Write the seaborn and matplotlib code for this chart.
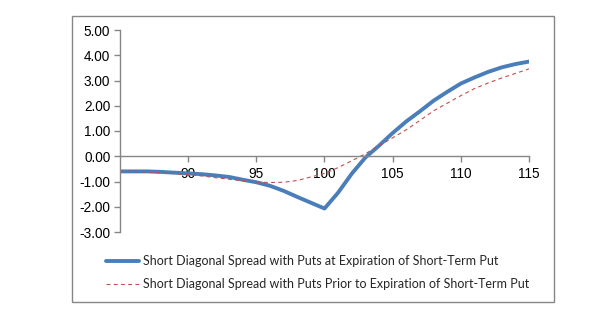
import matplotlib
matplotlib.use("Agg")
import matplotlib.pyplot as plt
from matplotlib.patches import Rectangle
from matplotlib.ticker import FormatStrFormatter
import seaborn as sns
import pandas as pd

# Underlying price at expiration of the short-term put
strikes = list(range(85, 116))

# Profit/loss at expiration of the short-term put
pl_at_expiration = [
    -0.60, -0.60, -0.60, -0.62, -0.65, -0.68, -0.71, -0.76, -0.82, -0.93,
    -1.03, -1.17, -1.37, -1.61, -1.84, -2.07, -1.44, -0.69, -0.05, 0.42,
    0.92, 1.38, 1.78, 2.20, 2.55, 2.88, 3.12, 3.34, 3.52, 3.65, 3.75,
]

# Profit/loss prior to expiration of the short-term put
pl_prior = [
    -0.58, -0.60, -0.63, -0.66, -0.69, -0.73, -0.78, -0.85, -0.91, -0.97,
    -1.02, -1.04, -1.03, -0.96, -0.82, -0.68, -0.45, -0.18, 0.10, 0.42,
    0.73, 1.05, 1.42, 1.80, 2.10, 2.40, 2.68, 2.90, 3.10, 3.28, 3.46,
]

series_names = [
    "Short Diagonal Spread with Puts at Expiration of Short-Term Put",
    "Short Diagonal Spread with Puts Prior to Expiration of Short-Term Put",
]

x_ticks = [90, 95, 100, 105, 110, 115]
y_ticks = [-3, -2, -1, 0, 1, 2, 3, 4, 5]

df = pd.DataFrame({
    "price": strikes,
    "at_exp": pl_at_expiration,
    "prior": pl_prior,
})

sns.set_theme(style="white")
plt.rcParams["font.family"] = ["Liberation Sans", "DejaVu Sans"]

fig = plt.figure(figsize=(6.0, 3.3), dpi=100)
fig.patch.set_facecolor("white")

# outer chart border
fig.patches.append(Rectangle((72 / 600, 1 - 302 / 330), (554 - 72) / 600, (302 - 16) / 330,
                             transform=fig.transFigure, fill=False,
                             edgecolor="#868686", linewidth=1.0))

ax = fig.add_axes([120 / 600, 1 - 232 / 330, (529 - 120) / 600, (232 - 30) / 330])

sns.lineplot(data=df, x="price", y="at_exp", ax=ax, color="#4A7EBB",
             linewidth=2.8, label=series_names[0])
sns.lineplot(data=df, x="price", y="prior", ax=ax, color="#C0504D",
             linewidth=0.8, label=series_names[1])
ax.lines[1].set_dashes((3.5, 3))

ax.set_xlim(85, 115)
ax.set_ylim(-3, 5)
ax.set_xticks(x_ticks)
ax.set_yticks(y_ticks)
ax.yaxis.set_major_formatter(FormatStrFormatter("%.2f"))
ax.set_xlabel("")
ax.set_ylabel("")

for side in ["top", "right"]:
    ax.spines[side].set_visible(False)
ax.spines["bottom"].set_position(("data", 0))
for side in ["left", "bottom"]:
    ax.spines[side].set_color("#868686")
    ax.spines[side].set_linewidth(1.0)

ax.tick_params(axis="both", which="major", direction="out", length=4, width=1,
               color="#868686", labelsize=9.8, labelcolor="black", pad=3)
ax.tick_params(axis="x", pad=4)
ax.tick_params(left=True, bottom=True)
ax.set_facecolor("white")

handles, labels = ax.get_legend_handles_labels()
ax.get_legend().remove()
fig.legend(handles, labels, loc="upper left", bbox_to_anchor=(106 / 600, 1 - 255 / 330),
           frameon=False, prop={"family": ["Lato", "DejaVu Sans"], "size": 9},
           handlelength=2.6, handletextpad=0.35, labelspacing=0.9, borderpad=0,
           borderaxespad=0)

fig.savefig("out.png", dpi=100, facecolor="white")
